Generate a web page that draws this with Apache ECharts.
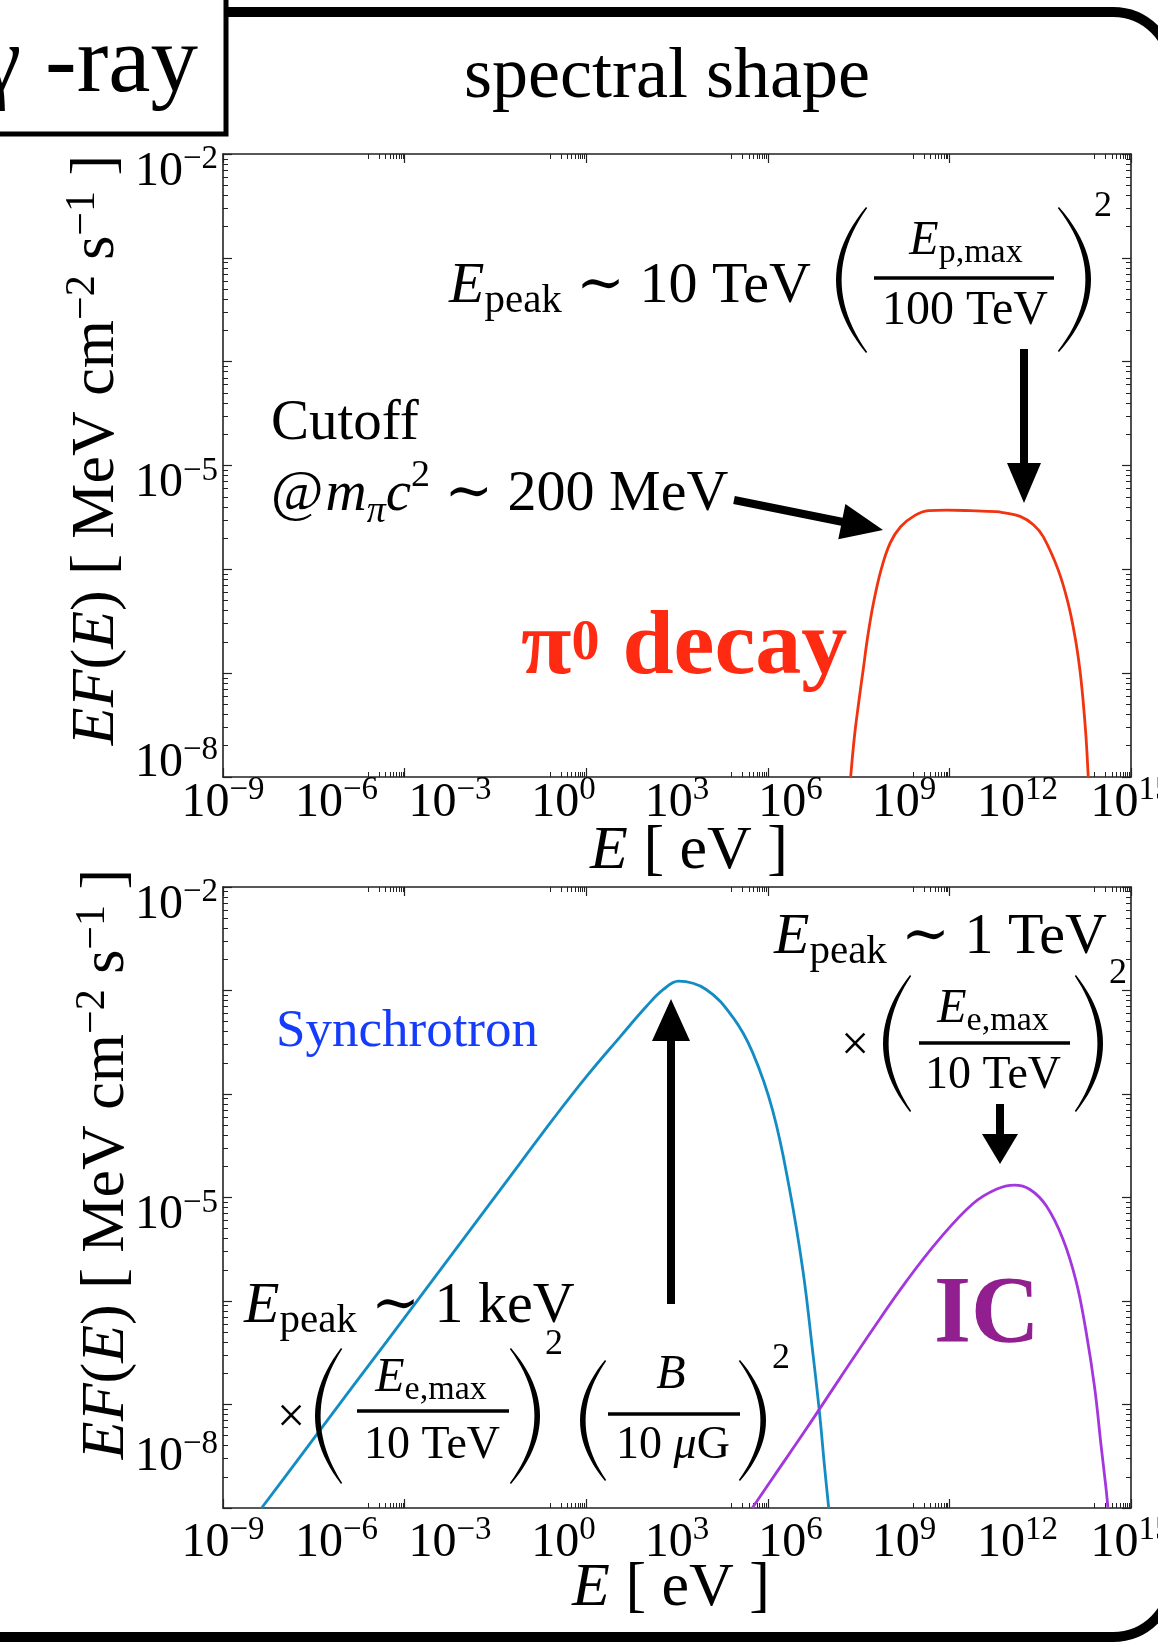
<!DOCTYPE html>
<html>
<head>
<meta charset="utf-8">
<title>spectral shape</title>
<script src="https://cdn.jsdelivr.net/npm/echarts@6/dist/echarts.min.js"></script>
<style>
  html, body { margin: 0; padding: 0; background: #fff; }
  #chart { width: 1158px; height: 1645px; }
</style>
</head>
<body>
<div id="chart"></div>
<script>
// x = log10(E / eV), y = log10(EF(E) / MeV cm^-2 s^-1)

// pi0 decay (top panel)
const pionLogE = [7.59, 7.69, 7.80, 7.92, 8.04, 8.19, 8.39, 8.63, 8.91, 9.29, 9.65, 10.13, 10.75, 11.45, 11.63, 12.07, 12.42, 12.68, 13.08, 13.34, 13.52, 13.65, 13.74, 13.81, 13.87];
const pionLogF = [-8.0, -7.61, -7.29, -6.97, -6.65, -6.33, -6.01, -5.75, -5.59, -5.48, -5.435, -5.43, -5.435, -5.445, -5.455, -5.49, -5.57, -5.685, -6.01, -6.33, -6.65, -6.97, -7.29, -7.61, -8.0];

// synchrotron (bottom panel)
const syncLogE = [-7.98, -7.32, -6.44, -5.56, -4.67, -3.79, -2.91, -2.03, -1.15, -0.27, 0.61, 1.49, 2.20, 2.64, 3.04, 3.77, 4.48, 5.00, 5.53, 5.97, 6.33, 6.59, 6.77, 6.90, 7.01];
const syncLogF = [-8.0, -7.68, -7.25, -6.82, -6.39, -5.96, -5.53, -5.10, -4.67, -4.24, -3.83, -3.45, -3.15, -2.99, -2.91, -2.99, -3.26, -3.60, -4.16, -4.91, -5.71, -6.50, -7.09, -7.60, -8.0];

// inverse Compton (bottom panel)
const icLogE = [4.99, 5.53, 6.41, 7.30, 8.18, 9.06, 9.94, 10.82, 11.44, 11.92, 12.32, 12.76, 13.20, 13.55, 13.81, 14.04, 14.21, 14.34, 14.39];
const icLogF = [-8.0, -7.71, -7.24, -6.75, -6.27, -5.81, -5.40, -5.06, -4.92, -4.88, -4.92, -5.08, -5.40, -5.81, -6.29, -6.84, -7.40, -7.81, -8.0];

// tick labels
const xLabelExps = [-9, -6, -3, 0, 3, 6, 9, 12, 15];
const yLabelExps = [-8, -5, -2];
// in the original the major x ticks don't line up with the (retyped) labels
const xMajorTicks = [-9, -4.2, 0.6, 5.4, 10.2, 15];

const FONT = "'Liberation Serif', 'DejaVu Serif', serif";
const AXIS = '#222';
const RED = '#f2330f';
const RED_TEXT = '#ff2a12';
const BLUE = '#138cc4';
const BLUE_TEXT = '#143cfa';
const PURPLE = '#a336dc';
const PURPLE_TEXT = '#921f8f';

const xMinorTicks = [];
xMajorTicks.slice(1).forEach(M => {
  for (let m = 1; m < 10; m++) xMinorTicks.push(M - 0.96 + 0.96 * Math.log10(m));
});
const yMinorTicks = [];
for (let d = -8; d < -2; d++) {
  for (let m = 2; m < 10; m++) yMinorTicks.push(d + Math.log10(m));
}

const zip = (a, b) => a.map((v, i) => [v, b[i]]);
const expText = v => (v < 0 ? '\u2212' + Math.abs(v) : String(v));

// ---------- text helpers ----------
const ctx = document.createElement('canvas').getContext('2d');
function textWidth(str, size, italic, bold) {
  ctx.font = (italic ? 'italic ' : '') + (bold ? 'bold ' : '') + size + 'px ' + FONT;
  return ctx.measureText(str).width;
}

// lays out pieces (sub/superscripts) on a common baseline
function mathText(x, baseline, parts, opts) {
  opts = opts || {};
  const widths = parts.map(p => textWidth(p.t, p.s, p.i, opts.bold));
  const total = widths.reduce((a, b) => a + b, 0) + parts.reduce((a, p) => a + (p.dx || 0), 0);
  let cx = x;
  if (opts.align === 'center') cx = x - total / 2;
  if (opts.align === 'right') cx = x - total;
  return parts.map((p, k) => {
    cx += p.dx || 0;
    const el = {
      type: 'text', x: cx, y: baseline + (p.dy || 0) - 0.3375 * p.s, z: 10,
      style: {
        text: p.t, fontSize: p.s, fontFamily: FONT,
        fontStyle: p.i ? 'italic' : 'normal',
        fontWeight: opts.bold ? 'bold' : 'normal',
        fill: opts.color || '#000', align: 'left', verticalAlign: 'middle'
      }
    };
    cx += widths[k];
    return el;
  });
}

function arrow(x1, y1, x2, y2, shaftW, headLen, headW) {
  const dx = x2 - x1, dy = y2 - y1, L = Math.hypot(dx, dy);
  const ux = dx / L, uy = dy / L, nx = -uy, ny = ux;
  const bx = x2 - ux * headLen, by = y2 - uy * headLen;
  return {
    type: 'polygon', z: 10,
    shape: { points: [
      [x1 + nx * shaftW / 2, y1 + ny * shaftW / 2],
      [bx + nx * shaftW / 2, by + ny * shaftW / 2],
      [bx + nx * headW / 2, by + ny * headW / 2],
      [x2, y2],
      [bx - nx * headW / 2, by - ny * headW / 2],
      [bx - nx * shaftW / 2, by - ny * shaftW / 2],
      [x1 - nx * shaftW / 2, y1 - ny * shaftW / 2]
    ] },
    style: { fill: '#000' }
  };
}

// big bracket as a filled crescent
function paren(xEnd, yTop, yBot, xBulge, thick) {
  const ym = (yTop + yBot) / 2;
  const dir = Math.sign(xEnd - xBulge);
  const c1 = 2 * xBulge - xEnd;
  const c2 = 2 * (xBulge + dir * thick) - xEnd;
  const pts = [];
  const N = 24;
  for (let k = 0; k <= N; k++) {
    const t = k / N;
    pts.push([(1 - t) * (1 - t) * xEnd + 2 * t * (1 - t) * c1 + t * t * xEnd,
              (1 - t) * (1 - t) * yTop + 2 * t * (1 - t) * ym + t * t * yBot]);
  }
  const xe = xEnd + dir * 1.2;
  for (let k = N; k >= 0; k--) {
    const t = k / N;
    pts.push([(1 - t) * (1 - t) * xe + 2 * t * (1 - t) * c2 + t * t * xe,
              (1 - t) * (1 - t) * (yTop + 1) + 2 * t * (1 - t) * ym + t * t * (yBot - 1)]);
  }
  return { type: 'polygon', z: 10, shape: { points: pts }, style: { fill: '#000' } };
}

function bar(x1, x2, y) {
  return { type: 'rect', z: 10, shape: { x: x1, y: y - 1.8, width: x2 - x1, height: 3.6 }, style: { fill: '#000' } };
}

// ---------- axes ----------
const GRIDS = [{ top: 154, height: 623 }, { top: 887, height: 621 }];

const xRich = {
  b: { fontFamily: FONT, fontSize: 48, lineHeight: 48, verticalAlign: 'bottom', color: '#000' },
  s: { fontFamily: FONT, fontSize: 33, lineHeight: 33, verticalAlign: 'bottom', padding: [0, 0, 20, 0], color: '#000' }
};
// digits sit a bit under their tick; the 10^-8 labels are raised like in the figure
function yRich(gi) {
  const q = gi === 0 ? 32 : 69;
  const tok = (size, pb) => ({ fontFamily: FONT, fontSize: size, lineHeight: size === 48 ? 84 : 33, verticalAlign: 'bottom', padding: [0, 0, pb, 0], color: '#000' });
  return { b: tok(48, 0), s: tok(33, 20), b8: tok(48, q), s8: tok(33, 20 + q) };
}

function xAxesFor(gi) {
  const base = { type: 'value', gridIndex: gi, min: -9, max: 15, interval: 3, splitLine: { show: false }, axisLabel: { show: false } };
  const line = { show: true, onZero: false, lineStyle: { color: AXIS, width: 1.6 } };
  const noLine = { show: false, onZero: false };
  const major = { show: true, inside: true, length: 9, customValues: xMajorTicks, lineStyle: { color: AXIS, width: 1.2 } };
  const minor = { show: true, inside: true, length: 5, customValues: xMinorTicks, lineStyle: { color: AXIS, width: 1 } };
  return [
    Object.assign({}, base, {
      position: 'bottom', axisLine: line, axisTick: major,
      axisLabel: {
        show: true, customValues: xLabelExps, margin: gi === 0 ? 2 : 11, hideOverlap: false,
        formatter: v => '{b|10}{s|' + expText(v) + '}', rich: xRich
      }
    }),
    Object.assign({}, base, { position: 'bottom', axisLine: noLine, axisTick: minor }),
    Object.assign({}, base, { position: 'top', axisLine: line, axisTick: major }),
    Object.assign({}, base, { position: 'top', axisLine: noLine, axisTick: minor })
  ];
}

function yAxesFor(gi) {
  const base = { type: 'value', gridIndex: gi, min: -8, max: -2, interval: 1, splitLine: { show: false }, axisLabel: { show: false } };
  const line = { show: true, onZero: false, lineStyle: { color: AXIS, width: 1.6 } };
  const noLine = { show: false, onZero: false };
  const major = { show: true, inside: true, length: 9, lineStyle: { color: AXIS, width: 1.2 } };
  const minor = { show: true, inside: true, length: 5, customValues: yMinorTicks, lineStyle: { color: AXIS, width: 1 } };
  return [
    Object.assign({}, base, {
      position: 'left', axisLine: line, axisTick: major,
      axisLabel: {
        show: true, customValues: yLabelExps, margin: 5, hideOverlap: false,
        formatter: v => (v === -8 ? '{b8|10}{s8|' + expText(v) + '}' : '{b|10}{s|' + expText(v) + '}'),
        rich: yRich(gi)
      }
    }),
    Object.assign({}, base, { position: 'left', axisLine: noLine, axisTick: minor }),
    Object.assign({}, base, { position: 'right', axisLine: line, axisTick: major }),
    Object.assign({}, base, { position: 'right', axisLine: noLine, axisTick: minor })
  ];
}

function curve(name, xs, ys, color, gi) {
  return {
    type: 'line', name, data: zip(xs, ys),
    xAxisIndex: gi * 4, yAxisIndex: gi * 4,
    showSymbol: false, smooth: 0.4, silent: true,
    lineStyle: { color, width: 2.8 }
  };
}

// ---------- annotations ----------
const yTitle = (x, y) => ({
  type: 'text', x, y, rotation: Math.PI / 2, z: 10,
  style: {
    text: '{i|EF}{n|(}{i|E}{n|) [ MeV cm}{s|\u22122}{n| s}{s|\u22121}{n| ]}',
    align: 'center', verticalAlign: 'middle',
    rich: {
      i: { fontFamily: FONT, fontSize: 62, fontStyle: 'italic', lineHeight: 62, verticalAlign: 'bottom', fill: '#000' },
      n: { fontFamily: FONT, fontSize: 62, lineHeight: 62, verticalAlign: 'bottom', fill: '#000' },
      s: { fontFamily: FONT, fontSize: 42, lineHeight: 42, verticalAlign: 'bottom', padding: [0, 0, 24, 0], fill: '#000' }
    }
  }
});

const graphics = [].concat(
  // outer rounded frame and the title tab
  [{ type: 'rect', z: 5, shape: { x: -60, y: 12, width: 1232, height: 1625, r: 59 }, style: { fill: 'none', stroke: '#000', lineWidth: 10 } },
   { type: 'rect', z: 6, shape: { x: -20, y: -20, width: 246, height: 154 }, style: { fill: '#fff', stroke: '#000', lineWidth: 5 } }],
  mathText(198, 98, [{ t: '\u03b3 -ray', s: 95 }], { align: 'right' }),
  mathText(667, 102, [{ t: 'spectral shape', s: 72 }], { align: 'center' }),

  // axis titles
  [yTitle(97, 450), yTitle(107, 1164)],
  mathText(689, 873, [{ t: 'E', s: 62, i: 1 }, { t: ' [ eV ]', s: 62 }], { align: 'center' }),
  mathText(671, 1610, [{ t: 'E', s: 62, i: 1 }, { t: ' [ eV ]', s: 62 }], { align: 'center' }),

  // top panel
  mathText(449, 306, [{ t: 'E', s: 58, i: 1 }, { t: 'peak', s: 41, dy: 9 }, { t: ' \u223c 10 TeV', s: 58 }]),
  [paren(866, 207, 353, 836, 5), paren(1059, 207, 352, 1091, 5), bar(874, 1054, 278)],
  mathText(966, 258, [{ t: 'E', s: 48, i: 1 }, { t: 'p,max', s: 34, dy: 7 }], { align: 'center' }),
  mathText(965, 328, [{ t: '100 TeV', s: 48 }], { align: 'center' }),
  mathText(1103, 219, [{ t: '2', s: 36 }], { align: 'center' }),
  [arrow(1024, 349, 1024, 503, 8, 40, 34)],
  mathText(271, 443, [{ t: 'Cutoff', s: 57 }]),
  mathText(271, 514, [{ t: '@', s: 57 }, { t: 'm', s: 57, i: 1, dx: 2 }, { t: '\u03c0', s: 38, i: 1, dy: 11 },
    { t: 'c', s: 57, i: 1 }, { t: '2', s: 38, dy: -25 }, { t: ' \u223c 200 MeV', s: 58 }]),
  [arrow(734, 500, 883, 530, 8, 42, 36)],
  mathText(521, 680, [{ t: '\u03c0', s: 92 }, { t: '0', s: 56, dy: -17 }, { t: ' decay', s: 92 }], { bold: true, color: RED_TEXT }),

  // bottom panel
  mathText(276, 1050, [{ t: 'Synchrotron', s: 53 }], { color: BLUE_TEXT }),
  [arrow(671, 1304, 671, 999, 8, 42, 38)],
  mathText(244, 1326, [{ t: 'E', s: 58, i: 1 }, { t: 'peak', s: 41, dy: 9 }, { t: ' \u223c 1 keV', s: 58 }]),
  mathText(291, 1436, [{ t: '\u00d7', s: 50 }], { align: 'center' }),
  [paren(341, 1348, 1484, 315, 5), paren(511, 1348, 1484, 540, 5), bar(357, 509, 1411)],
  mathText(431, 1395, [{ t: 'E', s: 48, i: 1 }, { t: 'e,max', s: 34, dy: 7 }], { align: 'center' }),
  mathText(432, 1461, [{ t: '10 TeV', s: 46 }], { align: 'center' }),
  mathText(554, 1357, [{ t: '2', s: 36 }], { align: 'center' }),
  [paren(605, 1360, 1481, 580, 5), paren(740, 1360, 1481, 766, 5), bar(608, 740, 1414)],
  mathText(671, 1392, [{ t: 'B', s: 48, i: 1 }], { align: 'center' }),
  mathText(673, 1461, [{ t: '10 ', s: 46 }, { t: '\u03bc', s: 46, i: 1 }, { t: 'G', s: 46 }], { align: 'center' }),
  mathText(781, 1371, [{ t: '2', s: 36 }], { align: 'center' }),

  mathText(774, 957, [{ t: 'E', s: 58, i: 1 }, { t: 'peak', s: 41, dy: 9 }, { t: ' \u223c 1 TeV', s: 58 }]),
  mathText(855, 1064, [{ t: '\u00d7', s: 50 }], { align: 'center' }),
  [paren(910, 975, 1112, 883, 5), paren(1076, 975, 1112, 1103, 5), bar(919, 1070, 1043)],
  mathText(993, 1026, [{ t: 'E', s: 48, i: 1 }, { t: 'e,max', s: 34, dy: 7 }], { align: 'center' }),
  mathText(993, 1091, [{ t: '10 TeV', s: 46 }], { align: 'center' }),
  mathText(1118, 986, [{ t: '2', s: 36 }], { align: 'center' }),
  [arrow(1000, 1104, 1000, 1164, 8, 30, 36)],
  mathText(934, 1350, [{ t: 'IC', s: 95 }], { bold: true, color: PURPLE_TEXT })
);

const chart = echarts.init(document.getElementById('chart'), null, { renderer: 'canvas' });

const option = {
  backgroundColor: '#fff',
  animation: false,
  grid: GRIDS.map(g => ({ left: 223, right: 27, top: g.top, height: g.height, containLabel: false, outerBoundsMode: 'none' })),
  xAxis: xAxesFor(0).concat(xAxesFor(1)),
  yAxis: yAxesFor(0).concat(yAxesFor(1)),
  series: [
    curve('\u03c0\u2070 decay', pionLogE, pionLogF, RED, 0),
    curve('Synchrotron', syncLogE, syncLogF, BLUE, 1),
    curve('IC', icLogE, icLogF, PURPLE, 1)
  ],
  graphic: { elements: graphics }
};

chart.setOption(option);
</script>
</body>
</html>
